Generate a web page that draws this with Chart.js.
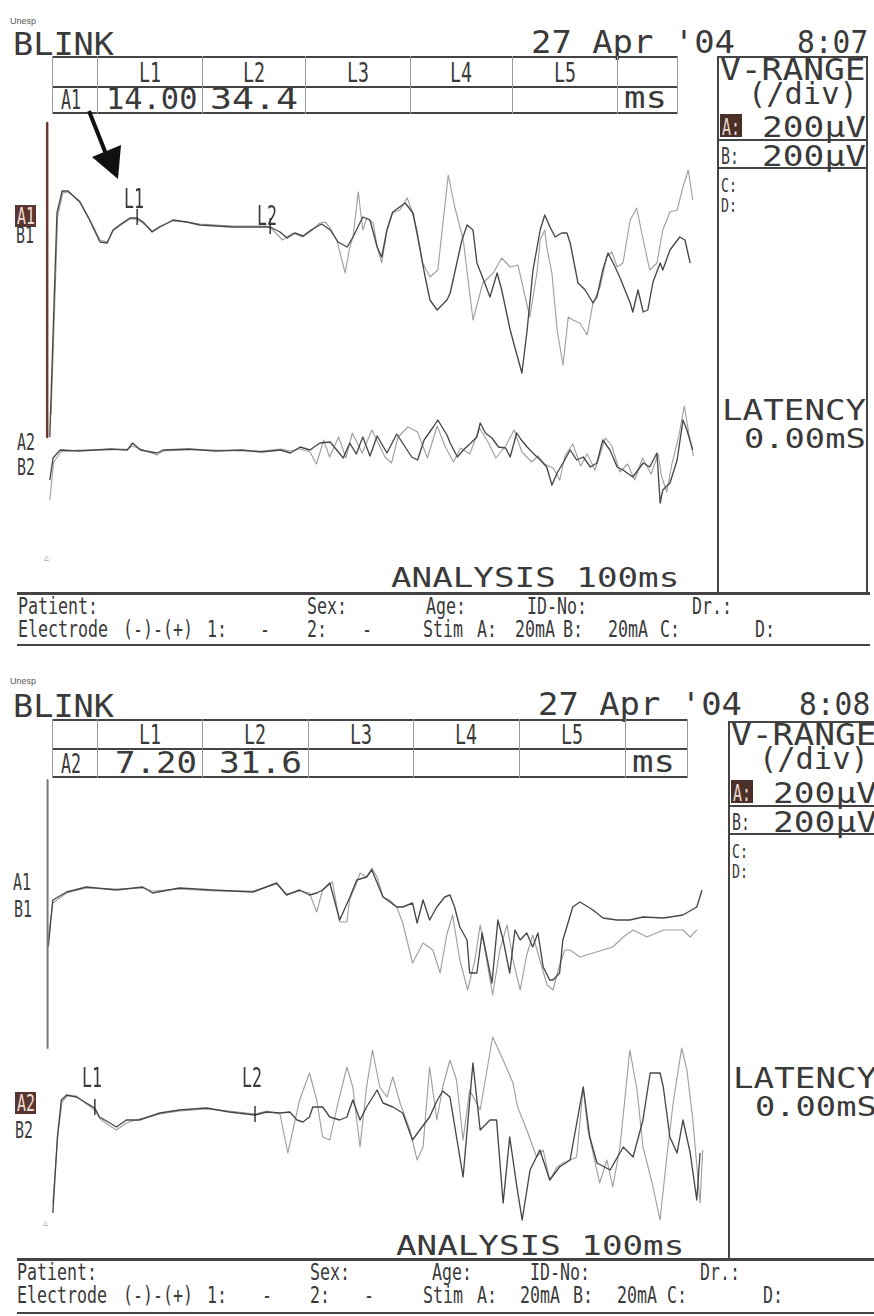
<!DOCTYPE html>
<html><head><meta charset="utf-8">
<script src="https://cdn.jsdelivr.net/npm/chart.js@4.4.1/dist/chart.umd.min.js"></script>
<style>
html,body{margin:0;padding:0;background:#fff;}
#page{position:relative;width:874px;height:1316px;overflow:hidden;background:#fff;}
.t{position:absolute;white-space:pre;line-height:1;font-family:"DejaVu Sans Mono",monospace;color:#3a3a3a;transform-origin:0 0;}
.ln{position:absolute;}
.bx{position:absolute;}
canvas{position:absolute;}
</style></head><body><div id="page"></div>
<script>
// ===== DATA (time in ms, amplitude in µV) =====
const latencyNames = ["L1","L2","L3","L4","L5"];
const p1Date = "27 Apr '04", p1Time = "8:07";
const p2Date = "27 Apr '04", p2Time = "8:08";
const p1LatChannel = "A1", p1Latencies = ["14.00","34.4"];
const p2LatChannel = "A2", p2Latencies = ["7.20","31.6"];
const vRange = ["200µV","200µV"];
const analysisText = "ANALYSIS 100ms";
const latencyReadout = "0.00mS";

// Panel 1, channel 1
const p1A1 = [[0.6,-1060],[1.7,60],[2.5,170],[3.4,170],[5.2,115],[6.7,25],[8.3,-85],[9.4,-90],[10.3,-25],[11.3,0],[12.9,35],[14.0,35],[14.9,15],[16.3,-35],[17.5,-10],[19.5,25],[21.6,15],[23.6,0],[28.7,-10],[34.4,-10],[35.9,-35],[37.0,-65],[38.2,-40],[39.4,-55],[40.9,-20],[42.3,5],[43.6,-25],[44.8,-85],[46.2,-110],[47.1,-60],[48.6,40],[49.7,25],[50.8,-110],[51.5,-160],[52.3,-25],[53.2,65],[55.1,110],[56.3,60],[57.4,-125],[58.1,-250],[58.9,-375],[60.0,-425],[61.5,-375],[62.0,-340],[63.8,-75],[64.6,0],[65.5,-25],[66.1,-190],[67.3,-290],[68.1,-360],[69.2,-240],[69.9,-325],[71.2,-525],[71.9,-610],[73.0,-740],[73.8,-525],[74.7,-225],[75.8,-25],[76.5,50],[77.3,-10],[78.1,-60],[79.1,-40],[79.9,-40],[80.4,-90],[81.6,-290],[82.7,-325],[83.9,-390],[84.5,-360],[85.4,-225],[86.2,-140],[87.0,-190],[88.0,-260],[89.6,-390],[90.0,-435],[90.8,-325],[91.6,-435],[92.3,-425],[93.1,-285],[94.2,-190],[94.6,-225],[95.7,-125],[97.2,-60],[98.0,-75],[98.8,-190]];
const p1B1 = [[0.8,-950],[1.8,40],[2.6,160],[3.4,165],[5.2,120],[6.7,30],[8.3,-75],[9.4,-85],[10.3,-30],[11.3,-5],[12.9,30],[13.7,30],[14.9,10],[16.3,-30],[17.5,-5],[19.5,20],[21.6,15],[23.6,5],[28.7,-5],[33.9,-5],[34.8,-25],[36.3,-75],[37.9,-40],[39.4,-60],[40.9,-25],[42.0,10],[42.8,15],[43.6,-15],[44.6,-75],[45.9,-240],[46.6,-110],[47.1,-60],[47.9,165],[48.6,-25],[49.2,35],[50.2,10],[50.8,-110],[51.5,-190],[52.3,-25],[53.1,60],[54.3,75],[55.4,135],[56.1,75],[56.9,-25],[57.7,-185],[58.9,-260],[60.1,-225],[61.7,250],[62.7,90],[64.0,-75],[65.5,-475],[67.0,-290],[68.6,-240],[69.9,-165],[71.2,-210],[72.4,-200],[73.5,-360],[74.2,-460],[75.3,-240],[75.8,-75],[76.5,-25],[76.8,-110],[77.6,-240],[78.4,-525],[79.3,-700],[80.1,-460],[80.8,-475],[81.9,-490],[83.0,-550],[83.9,-390],[85.0,-310],[86.0,-160],[86.8,-135],[87.6,-210],[88.5,-190],[89.6,25],[90.6,85],[91.6,-75],[92.6,-225],[93.7,-190],[94.6,-25],[95.7,65],[96.8,75],[97.7,190],[98.5,275],[99.2,125]];
// Panel 1, channel 2
const p1A2 = [[0.6,-150],[1.1,-40],[2.2,0],[5,-5],[10,5],[12.5,0],[13.3,35],[14.5,0],[17,-15],[18,0],[22,5],[26,-5],[30,0],[33,-10],[36,0],[37.5,-15],[39.0,15],[40.5,0],[42.0,35],[43.6,40],[44.6,0],[45.6,-40],[46.6,35],[47.6,-20],[48.6,65],[49.7,-30],[50.8,70],[52.3,-15],[53.8,80],[56.1,-35],[57.0,-50],[58.0,50],[59.4,115],[60.1,150],[61.5,75],[62.0,35],[63.1,-35],[64.0,0],[65.0,30],[66.1,65],[66.6,135],[67.4,85],[68.4,60],[69.4,15],[70.5,10],[71.2,-35],[72.2,85],[72.8,55],[73.8,15],[74.7,-15],[75.8,-50],[76.8,-85],[77.6,-175],[78.4,-115],[79.3,-65],[80.4,0],[81.4,-50],[82.4,-35],[83.5,-85],[84.5,-65],[85.4,50],[86.5,0],[87.6,-85],[88.5,-100],[90.0,-135],[91.6,-65],[92.6,-85],[93.7,-15],[94.2,-265],[94.6,-200],[95.7,-165],[96.8,-50],[97.7,150],[98.3,100],[99.2,0]];
const p1B2 = [[0.6,-250],[1.2,-60],[2.3,-10],[5,0],[10,0],[12.5,5],[13.3,20],[14.5,5],[17,-25],[18,-5],[22,0],[26,0],[30,-5],[33,-5],[36,5],[37.5,-5],[39.0,5],[40.5,-10],[41.5,-70],[42.6,50],[43.5,-35],[44.9,65],[46.0,-40],[47.0,85],[48.5,-15],[50.0,100],[52.0,-35],[53.0,-65],[54.0,65],[55.5,115],[57.0,90],[58.5,-40],[60.0,120],[61.2,20],[62.5,-60],[63.6,10],[65.0,-20],[66.5,110],[67.8,40],[69.0,-40],[70.5,20],[71.8,100],[73.0,-10],[74.5,-60],[75.5,-30],[76.5,-70],[77.8,-90],[78.8,-150],[79.6,-30],[80.8,30],[82.0,-80],[83.0,-20],[84.2,-100],[85.8,60],[86.8,20],[88.0,-110],[89.2,-70],[90.3,-150],[91.5,-40],[92.8,-120],[93.9,-20],[94.4,-130],[95.2,-210],[96.0,-70],[97.0,60],[97.9,220],[98.6,80],[99.3,-30]];
const p1Stim = [[0.2,510],[0.2,-1060]];

// Panel 2, channel 1
const p2A1 = [[0.1,-290],[0.8,-55],[2.9,-15],[5.9,10],[10.5,-5],[14.5,10],[16.0,-20],[20.1,5],[25.2,-5],[31.3,-15],[34.9,30],[36.4,-30],[38.4,-5],[39.9,-30],[41.0,-20],[41.9,-5],[43.0,30],[44.5,-155],[46.0,-45],[47.1,45],[48.6,60],[49.4,95],[51.1,-40],[53.2,-90],[54.1,-90],[55.6,-70],[56.3,-170],[57.2,-55],[58.2,-155],[59.3,-90],[60.5,-40],[61.3,-30],[62.0,-90],[62.8,-190],[63.9,-255],[64.3,-420],[65.4,-420],[66.2,-220],[67.7,-470],[68.6,-155],[69.4,-255],[70.4,-420],[71.2,-205],[72.0,-255],[73.0,-220],[73.9,-290],[74.7,-220],[75.5,-390],[76.5,-455],[77.0,-455],[78.0,-420],[78.5,-255],[79.1,-190],[80.0,-90],[81.1,-65],[83.1,-105],[84.6,-145],[86.7,-155],[88.7,-155],[90.7,-140],[93.8,-145],[96.8,-130],[98.9,-90],[99.7,-5]];
const p2B1 = [[0.1,-250],[0.8,-70],[2.9,-20],[5.9,5],[10.5,0],[14.5,5],[16.0,-10],[20.1,0],[25.2,-10],[31.3,-10],[34.9,25],[36.4,-25],[38.4,-10],[39.9,-20],[41.0,-115],[41.9,-5],[43.4,35],[44.5,-165],[45.6,-165],[46.0,-55],[47.1,30],[47.6,80],[48.6,60],[49.4,105],[50.2,60],[51.1,-40],[52.1,-55],[53.2,-90],[54.1,-170],[55.6,-370],[57.2,-270],[58.7,-305],[59.8,-420],[60.8,-230],[61.7,-130],[62.8,-355],[64.0,-505],[65.1,-355],[65.9,-180],[66.9,-355],[67.8,-530],[68.9,-305],[70.0,-180],[70.9,-355],[72.0,-505],[73.0,-330],[73.9,-230],[75.0,-355],[76.1,-480],[77.0,-505],[78.0,-380],[78.8,-305],[79.6,-305],[81.1,-340],[83.1,-320],[84.6,-305],[86.1,-290],[87.7,-240],[89.2,-205],[91.3,-240],[93.8,-205],[96.8,-205],[97.9,-240],[98.9,-205]];
// Panel 2, channel 2
const p2A2 = [[0.8,-500],[1.5,-120],[2.1,65],[2.9,90],[4.4,80],[5.9,50],[7.2,25],[7.9,-20],[9.5,-50],[10.5,-70],[12.0,-35],[14.0,-35],[17.1,0],[20.1,15],[24.2,25],[27.7,5],[31.6,-10],[33.4,5],[35.4,0],[36.9,5],[38.0,-35],[38.9,-45],[39.9,-20],[40.4,30],[41.9,30],[43.0,-20],[44.5,-35],[45.6,-20],[46.5,65],[47.6,-35],[48.6,30],[50.2,115],[51.1,50],[52.6,30],[54.1,0],[55.6,-135],[56.7,-85],[58.2,-20],[59.3,60],[60.2,110],[61.3,80],[63.3,-320],[64.8,250],[65.9,-85],[67.4,-35],[68.4,-35],[69.4,-450],[70.4,-120],[71.5,-370],[72.3,-535],[73.5,-285],[75.0,-185],[76.5,-335],[78.0,-270],[79.6,-235],[81.6,130],[82.6,-120],[83.7,-250],[85.7,-285],[87.7,-170],[89.2,-220],[90.7,-35],[91.8,200],[93.3,200],[93.8,130],[94.8,-120],[95.9,-200],[96.8,-35],[97.9,-200],[98.9,-435],[99.4,-200]];
const p2B2 = [[0.8,-450],[1.6,-100],[2.2,55],[3.0,85],[4.4,85],[5.9,45],[7.2,15],[8.0,-30],[9.5,-65],[10.5,-85],[12.0,-50],[14.0,-30],[17.1,-5],[20.1,10],[24.2,20],[27.7,10],[31.6,-5],[33.4,10],[35.4,-5],[36.6,-200],[38.4,65],[39.9,200],[41.0,65],[41.9,-120],[43.0,-135],[44.1,30],[45.6,230],[46.5,130],[47.6,-170],[48.6,130],[49.5,315],[50.6,130],[51.7,80],[52.6,180],[53.7,50],[55.2,-85],[56.3,-235],[57.2,-170],[58.2,230],[59.3,-35],[60.2,130],[61.3,265],[62.3,165],[63.3,-135],[64.3,115],[65.9,15],[67.8,380],[69.4,265],[70.9,150],[71.6,30],[73.0,-85],[74.5,-220],[75.5,-185],[76.5,-335],[77.6,-270],[78.5,-250],[79.6,-235],[80.6,-220],[81.6,130],[82.3,-85],[83.1,-200],[84.1,-350],[85.2,-235],[86.1,-370],[87.2,-170],[88.7,315],[89.8,115],[90.7,-170],[92.1,-350],[93.3,-535],[94.4,-200],[95.3,50],[96.6,325],[97.4,215],[98.3,-35],[99.4,-450],[99.8,-185]];
const p2Stim = [[0.0,545],[0.0,-795]];

// ===== LAYOUT HELPERS =====
const page = document.getElementById('page');
function T(s,x,base,cap,pitch,o){
  o=o||{};
  const size=cap/0.729, sx=pitch/(0.602*size);
  const d=document.createElement('div'); d.className='t'; d.textContent=s;
  d.style.left=x+'px'; d.style.top=(base-0.846*size)+'px';
  d.style.fontSize=size+'px'; d.style.transform='scaleX('+sx+')';
  if(o.color) d.style.color=o.color;
  page.appendChild(d); return d;
}
function R(x,y,w,h,c){
  const d=document.createElement('div'); d.className='ln';
  d.style.left=x+'px'; d.style.top=y+'px'; d.style.width=w+'px'; d.style.height=h+'px';
  d.style.background=c||'#333'; page.appendChild(d); return d;
}
function small(s,x,y){
  const d=document.createElement('div'); d.className='t'; d.textContent=s;
  d.style.fontFamily='"Liberation Sans",sans-serif'; d.style.fontSize='9px';
  d.style.left=x+'px'; d.style.top=y+'px'; d.style.color='#555'; page.appendChild(d);
}

function drawFrame(L){
  small("Unesp", 10, L.unespY);
  T("BLINK", 13, L.blinkBase, 23.5, 20.2);
  T(L.date, L.dateX, L.blinkBase-1, 23, 20.4);
  T(L.time, L.timeX, L.blinkBase-1, 23, 17.8);
  const tb=L.table;
  R(tb.x0, tb.top, tb.x1-tb.x0, 2, '#444');
  R(tb.x0, tb.mid, tb.x1-tb.x0, 2, '#444');
  R(tb.x0, tb.bot, tb.x1-tb.x0, 2, '#444');
  const cols=[tb.x0].concat(tb.cols).concat([tb.x1]);
  cols.forEach(x=>R(x, tb.top, 1, tb.bot-tb.top+2, '#999'));
  latencyNames.forEach((n,i)=>{
    const c=(tb.cols[i]+ (i+1<tb.cols.length? tb.cols[i+1]:tb.x1))/2;
    T(n, c-11, tb.mid-3, 19.5, 11);
  });
  T(L.latCh, tb.x0+9, tb.bot-3, 19, 10);
  L.latVals.forEach((v,i)=>T(v, L.valX[i], tb.bot-2, 22, L.valPitch[i]));
  T("ms", L.msX, tb.bot-3, 22, 21.5);
  const vb=L.vbox;
  R(vb.x0, vb.top, vb.x1-vb.x0, 2, '#444');
  R(vb.x0, vb.top, 2, vb.bot-vb.top, '#444');
  R(vb.x1-2, vb.top, 2, vb.bot-vb.top, '#444');
  R(vb.x0, vb.lineA, vb.x1-vb.x0, 1.5, '#444');
  R(vb.x0, vb.lineB, vb.x1-vb.x0, 1.5, '#444');
  T("V-RANGE", vb.x0+3, vb.top+25, 21.5, 20.8);
  T("(/div)", vb.x0+31, vb.top+49, 22, 18.3);
  const ab=document.createElement('div'); ab.className='bx';
  ab.style.cssText='left:'+(vb.x0+3)+'px;top:'+(vb.lineA-25)+'px;width:22px;height:23px;background:#4a3029;';
  page.appendChild(ab);
  T("A:", vb.x0+5, vb.lineA-4, 17, 9, {color:'#e9d9cf'});
  T(vRange[0], vb.x0+45, vb.lineA-2, 21, 20.8);
  T("B:", vb.x0+4, vb.lineB-3, 17, 9);
  T(vRange[1], vb.x0+45, vb.lineB-1, 21, 20.8);
  T("C:", vb.x0+4, vb.lineB+25, 14, 8);
  T("D:", vb.x0+4, vb.lineB+45, 14, 8);
  T("LATENCY", vb.x0+5, L.latBase, 21, 20.6);
  T(latencyReadout, vb.x0+27, L.latBase+28, 19, 20.3);
  T(analysisText, L.anaX, L.anaBase, 20, 20.6);
  const f=L.foot;
  R(17, f.top, 853+f.extra, 2.5, '#444');
  R(17, f.bot, 853+f.extra, 1.5, '#444');
  const r1=f.top+22, r2=f.top+45;
  f.row1.forEach(it=>T(it[0], it[1], r1, 16.5, 10));
  f.row2.forEach(it=>T(it[0], it[1], r2, 16.5, 10));
  L.ch.forEach(c=>{
    if(c.inv){
      const b=document.createElement('div'); b.className='bx';
      b.style.cssText='left:'+c.x+'px;top:'+(c.base-19)+'px;width:21px;height:22px;background:#5a3530;';
      page.appendChild(b);
      T(c.s, c.x+2, c.base, 17, 9, {color:'#ecdcd2'});
    } else T(c.s, c.x, c.base, 17, 9);
  });
  const m=document.createElement('div'); m.className='t'; m.textContent='△';
  m.style.cssText+='left:'+(L.trig[0])+'px;top:'+(L.trig[1])+'px;font-size:8px;color:#777;';
  page.appendChild(m);
}

function pts(arr){ return arr.map(p=>({x:p[0],y:p[1]})); }
function interp(arr,t){
  for(let i=1;i<arr.length;i++){
    if(arr[i][0]>=t){const a=arr[i-1],b=arr[i];const f=(t-a[0])/(b[0]-a[0]||1);return a[1]+f*(b[1]-a[1]);}
  }
  return arr[arr.length-1][1];
}

function makeTraces(C){
  const cv=document.createElement('canvas');
  cv.width=C.w; cv.height=C.h; cv.style.left=C.x+'px'; cv.style.top=C.y+'px';
  cv.style.width=C.w+'px'; cv.style.height=C.h+'px';
  page.appendChild(cv);
  const A='#474747', B='#a0a0a0';
  const ds=[
    {data:pts(C.stim), yAxisID:'y1', borderColor:C.stimColor, borderWidth:C.stimW},
    {data:pts(C.a1), yAxisID:'y1', borderColor:A, borderWidth:1.35},
    {data:pts(C.a2), yAxisID:'y2', borderColor:A, borderWidth:1.35},
    {data:pts(C.b1), yAxisID:'y1', borderColor:B, borderWidth:1.15},
    {data:pts(C.b2), yAxisID:'y2', borderColor:B, borderWidth:1.15}
  ].map(d=>Object.assign(d,{pointRadius:0,tension:0,fill:false,borderJoinStyle:'round'}));
  const markerPlugin={id:'mk',afterDatasetsDraw(ch){
    const ctx=ch.ctx; ctx.save(); ctx.strokeStyle='#2b2b2b'; ctx.lineWidth=1.4;
    C.markers.forEach(m=>{
      const px=ch.scales.x.getPixelForValue(m.t);
      const py=ch.scales[m.axis].getPixelForValue(interp(m.trace,m.t));
      ctx.beginPath(); ctx.moveTo(px,py-9); ctx.lineTo(px,py+7); ctx.stroke();
    });
    ctx.restore();
  }};
  const chart=new Chart(cv,{type:'line',data:{datasets:ds},
    options:{responsive:false,animation:false,events:[],
      plugins:{legend:{display:false},tooltip:{enabled:false}},
      layout:{padding:0},
      scales:{x:{type:'linear',min:C.tmin,max:100,display:false},
              y1:{type:'linear',min:C.y1[0],max:C.y1[1],display:false},
              y2:{type:'linear',min:C.y2[0],max:C.y2[1],display:false}}},
    plugins:[markerPlugin]});
  C.markers.forEach(m=>{
    const px=chart.scales.x.getPixelForValue(m.t)+C.x;
    T(m.label, px-13, m.labelBase, 20, 10);
  });
}

// ===== PANEL 1 =====
drawFrame({
  unespY:17, blinkBase:55, date:p1Date, dateX:531, time:p1Time, timeX:797,
  table:{x0:52,x1:677,top:56,mid:86,bot:112,cols:[97,202,305,410,512,617]},
  latCh:p1LatChannel, latVals:p1Latencies, valX:[106,210], valPitch:[18.3,22], msX:624,
  vbox:{x0:717,x1:868,top:56,bot:593,lineA:139,lineB:167},
  latBase:420, anaX:391, anaBase:587,
  foot:{top:592,bot:644,extra:0,
    row1:[["Patient:",18],["Sex:",307],["Age:",426],["ID-No:",527],["Dr.:",692]],
    row2:[["Electrode",18],["(-)-(+)",123],["1:",207],["-",260],["2:",307],["-",362],["Stim",423],["A:",477],["20mA",515],["B:",563],["20mA",608],["C:",660],["D:",755]]},
  ch:[{s:"A1",x:15,base:224,inv:true},{s:"B1",x:16,base:243},{s:"A2",x:17,base:450},{s:"B2",x:17,base:475}],
  trig:[44,554]
});
makeTraces({x:40,y:115,w:658,h:480,tmin:-0.9,
  y1:[-1850,550], y2:[-725,1675],
  a1:p1A1,b1:p1B1,a2:p1A2,b2:p1B2,stim:p1Stim,stimColor:'#6a3a30',stimW:2.5,
  markers:[{t:parseFloat(p1Latencies[0]),trace:p1A1,axis:'y1',label:"L1",labelBase:208},
           {t:parseFloat(p1Latencies[1]),trace:p1A1,axis:'y1',label:"L2",labelBase:225}]});

// ===== PANEL 2 =====
drawFrame({
  unespY:677, blinkBase:717, date:p2Date, dateX:538, time:p2Time, timeX:799,
  table:{x0:52,x1:687,top:719,mid:748,bot:776,cols:[97,202,308,413,519,625]},
  latCh:p2LatChannel, latVals:p2Latencies, valX:[115,219], valPitch:[20.5,20.8], msX:632,
  vbox:{x0:728,x1:876,top:721,bot:1259,lineA:805,lineB:833},
  latBase:1088, anaX:396, anaBase:1255,
  foot:{top:1258,bot:1312,extra:6,
    row1:[["Patient:",17],["Sex:",310],["Age:",432],["ID-No:",530],["Dr.:",700]],
    row2:[["Electrode",17],["(-)-(+)",123],["1:",207],["-",262],["2:",310],["-",364],["Stim",423],["A:",477],["20mA",520],["B:",573],["20mA",617],["C:",667],["D:",763]]},
  ch:[{s:"A1",x:13,base:890},{s:"B1",x:14,base:917},{s:"A2",x:15,base:1111,inv:true},{s:"B2",x:15,base:1138}],
  trig:[43,1219]
});
makeTraces({x:41,y:775,w:663,h:484,tmin:-1.0,
  y1:[-1850,570], y2:[-730,1690],
  a1:p2A1,b1:p2B1,a2:p2A2,b2:p2B2,stim:p2Stim,stimColor:'#7a7a7a',stimW:2,
  markers:[{t:parseFloat(p2Latencies[0]),trace:p2A2,axis:'y2',label:"L1",labelBase:1087},
           {t:parseFloat(p2Latencies[1]),trace:p2A2,axis:'y2',label:"L2",labelBase:1087}]});

// annotation arrow (panel 1)
const svgNS='http://www.w3.org/2000/svg';
const sv=document.createElementNS(svgNS,'svg');
sv.setAttribute('width','874'); sv.setAttribute('height','1316');
sv.style.cssText='position:absolute;left:0;top:0;pointer-events:none';
const ln=document.createElementNS(svgNS,'line');
ln.setAttribute('x1','89'); ln.setAttribute('y1','111'); ln.setAttribute('x2','106'); ln.setAttribute('y2','154');
ln.setAttribute('stroke','#111'); ln.setAttribute('stroke-width','4');
const pg=document.createElementNS(svgNS,'polygon');
pg.setAttribute('points','92,157 121,145 118,179'); pg.setAttribute('fill','#111');
sv.appendChild(ln); sv.appendChild(pg); page.appendChild(sv);
</script></body></html>
